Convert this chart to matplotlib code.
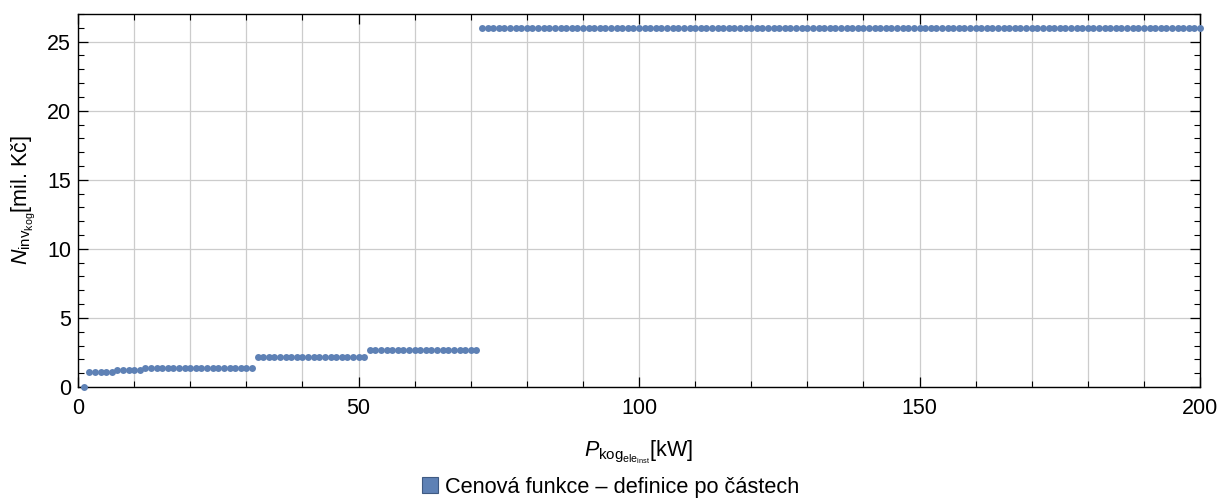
import numpy as np
import matplotlib
matplotlib.use('Agg')
import matplotlib.pyplot as plt
from matplotlib.lines import Line2D
from matplotlib.ticker import MultipleLocator

plt.rcParams['font.family'] = ['Liberation Sans', 'DejaVu Sans']
plt.rcParams['mathtext.fontset'] = 'custom'
plt.rcParams['mathtext.rm'] = 'Liberation Sans'
plt.rcParams['mathtext.it'] = 'Liberation Sans:italic'

# piecewise price function (one dot per kW)
seg_start = [1, 2, 7, 12, 32, 52, 72]
seg_end = [1, 6, 11, 31, 51, 71, 200]
seg_price = [0, 1.05, 1.2, 1.4, 2.2, 2.7, 26]

x_kw = []
y_price = []
for s, e, p in zip(seg_start, seg_end, seg_price):
    for k in range(s, e + 1):
        x_kw.append(k)
        y_price.append(p)

point_color = '#5E81B5'
legend_label = 'Cenová funkce – definice po částech'

fig = plt.figure(figsize=(12.2, 5), dpi=100)
ax = fig.add_axes([0.064, 0.226, 0.9196, 0.746])

ax.plot(x_kw, y_price, 'o', color=point_color, markersize=5.0,
        markeredgewidth=0, clip_on=False, zorder=3)

ax.set_xlim(0, 200)
ax.set_ylim(0, 27)
ax.xaxis.set_major_locator(MultipleLocator(50))
ax.xaxis.set_minor_locator(MultipleLocator(10))
ax.yaxis.set_major_locator(MultipleLocator(5))
ax.yaxis.set_minor_locator(MultipleLocator(1))

ax.grid(True, which='major', axis='y', color='#cccccc', linewidth=0.9)
ax.grid(True, which='both', axis='x', color='#cccccc', linewidth=0.9)
ax.set_axisbelow(True)

ax.tick_params(which='both', direction='in', top=True, right=True,
               labelsize=15.5, colors='black')
ax.tick_params(which='major', length=7, width=0.9)
ax.tick_params(which='minor', length=4, width=0.8)
ax.tick_params(axis='x', which='major', pad=8)
ax.tick_params(axis='y', which='major', pad=5)
for sp in ax.spines.values():
    sp.set_linewidth(1.0)

ax.set_xlabel(r'$P_{\mathrm{kog}_{\mathrm{ele}_{\mathrm{inst}}}}$[kW]', fontsize=15.5, labelpad=14)
ax.set_ylabel(r'$N_{\mathrm{inv}_{\mathrm{kog}}}$[mil. Kč]', fontsize=15.5, labelpad=7)

handle = Line2D([], [], marker='s', linestyle='none', markersize=11,
                markerfacecolor=point_color, markeredgecolor='#3f5a82',
                markeredgewidth=0.8)
fig.legend([handle], [legend_label], loc='center', bbox_to_anchor=(0.5, 0.026),
           frameon=False, fontsize=15.7, handlelength=0.8, handletextpad=0.3)

fig.savefig('out.png', dpi=100)
